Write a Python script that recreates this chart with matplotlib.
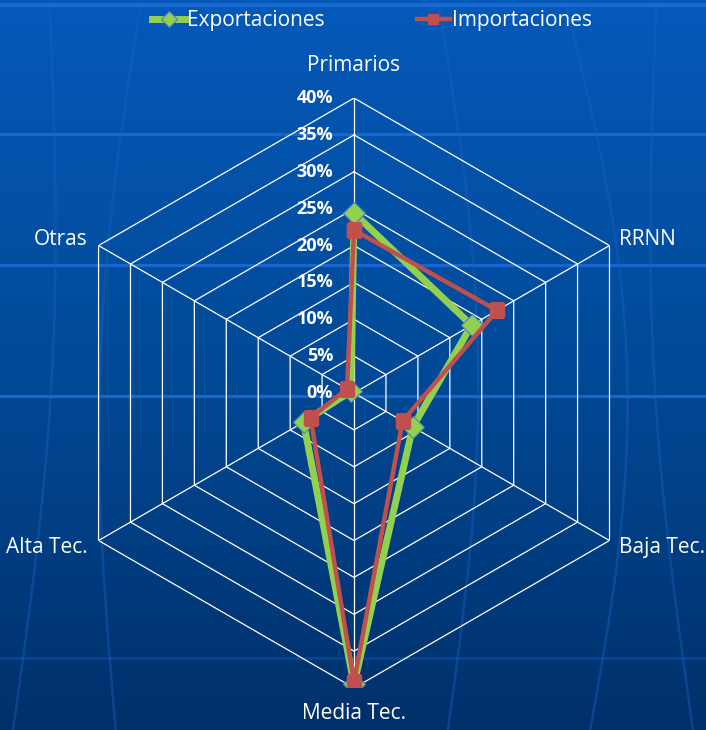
import numpy as np
import matplotlib
matplotlib.use("Agg")
import matplotlib.pyplot as plt

# ------------------------------------------------------------------
# DATA
# ------------------------------------------------------------------
categories = ["Primarios", "RRNN", "Baja Tec.", "Media Tec.", "Alta Tec.", "Otras"]
exportaciones = [24.4, 18.4, 9.2, 39.5, 7.9, 0.5]
importaciones = [22.1, 22.4, 7.6, 39.2, 6.8, 1.1]
ring_values = [0, 5, 10, 15, 20, 25, 30, 35, 40]
ring_labels = ["0%", "5%", "10%", "15%", "20%", "25%", "30%", "35%", "40%"]

GREEN = "#92D050"
RED = "#C0504D"
FONT = ["Open Sans", "DejaVu Sans"]

plt.rcParams["font.family"] = FONT

fig = plt.figure(figsize=(7.06, 7.30), dpi=100)

# ------------------------------------------------------------------
# BACKGROUND (blue gradient + faint template lines)
# ------------------------------------------------------------------
bg = fig.add_axes([0, 0, 1, 1], zorder=-10)
grad = np.linspace(0, 1, 256).reshape(-1, 1)
cmap = matplotlib.colors.LinearSegmentedColormap.from_list(
    "bg", ["#0559B9", "#024A98", "#00306A"])
bg.imshow(grad, aspect="auto", cmap=cmap, extent=[0, 1, 0, 1], origin="upper")
for yy in [1 - 134 / 730, 1 - 265 / 730, 1 - 396 / 730]:
    bg.axhline(yy, color="#1A6AD4", lw=2.2, alpha=0.9)
bg.axhline(1 - 658 / 730, color="#0A4A9A", lw=2, alpha=0.8)
bg.axhline(1 - 5 / 730, color="#1A6AD4", lw=3)
# faint curved strokes of the slide template
t = np.linspace(0, 1, 100)
for x0, bend in [(0.07, 0.03), (0.2, -0.04), (0.62, 0.05), (0.8, 0.07), (0.93, -0.03)]:
    bg.plot(x0 + bend * np.sin(np.pi * t) + 0.12 * (1 - t) * (x0 - 0.5),
            t, color="#1C62C4", lw=1.8, alpha=0.4)
bg.set_xlim(0, 1)
bg.set_ylim(0, 1)
bg.axis("off")

# ------------------------------------------------------------------
# RADAR AXES
# ------------------------------------------------------------------
ax = fig.add_axes([0.0836, 0.0575, 0.8357, 0.8082], projection="polar")
ax.set_facecolor("none")
ax.set_theta_offset(np.pi / 2)
ax.set_theta_direction(-1)
ax.set_ylim(0, 40)
ax.grid(False)
ax.spines["polar"].set_visible(False)
ax.set_xticks([])
ax.set_yticks([])

angles = np.linspace(0, 2 * np.pi, len(categories), endpoint=False)
closed = np.concatenate([angles, angles[:1]])

# hexagonal rings and spokes
for r in ring_values[1:]:
    ax.plot(closed, [r] * len(closed), color="white", lw=0.9, zorder=1)
for a in angles:
    ax.plot([a, a], [0, 40], color="white", lw=0.9, zorder=1)

# ring labels
for r, lab in zip(ring_values, ring_labels):
    ax.annotate(lab, xy=(0, r), xytext=(-15, 0), textcoords="offset points",
                ha="right", va="center", color="white", fontsize=13,
                fontweight="bold", zorder=5)

# category labels
label_pos = {
    "Primarios": dict(xytext=(0, 16), ha="center", va="bottom"),
    "RRNN": dict(xytext=(7, 4), ha="left", va="center"),
    "Baja Tec.": dict(xytext=(7, -5), ha="left", va="center"),
    "Media Tec.": dict(xytext=(0, -11), ha="center", va="top"),
    "Alta Tec.": dict(xytext=(-8, -5), ha="right", va="center"),
    "Otras": dict(xytext=(-8, 4), ha="right", va="center"),
}
for a, cat in zip(angles, categories):
    ax.annotate(cat, xy=(a, 40), textcoords="offset points",
                color="white", fontsize=15, annotation_clip=False,
                **label_pos[cat])

# series
exp_c = exportaciones + exportaciones[:1]
imp_c = importaciones + importaciones[:1]
ax.plot(closed, exp_c, color=GREEN, lw=5, marker="D", markersize=11,
        markerfacecolor=GREEN, markeredgecolor="#4F81BD", markeredgewidth=0.8,
        label="Exportaciones", zorder=3)
ax.plot(closed, imp_c, color=RED, lw=3.2, marker="s", markersize=10,
        markerfacecolor=RED, markeredgecolor=RED,
        label="Importaciones", zorder=4)

leg = fig.legend(loc="upper center", bbox_to_anchor=(0.527, 1.012), ncol=2,
                 frameon=False, fontsize=15, columnspacing=4.4,
                 handlelength=1.6, handletextpad=0.1, markerscale=0.75,
                 labelcolor="white")

fig.savefig("out.png", dpi=100)
